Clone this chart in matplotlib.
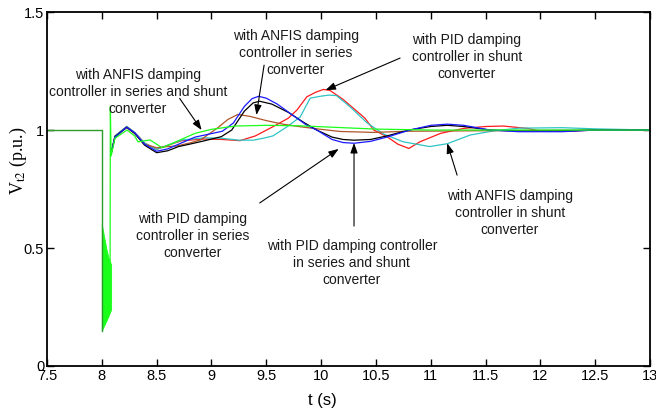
import matplotlib.pyplot as plt

plt.rcParams['font.family'] = ['Liberation Sans', 'DejaVu Sans']
plt.rcParams['mathtext.fontset'] = 'stix'

# pre-fault steady state and fault (t = 8.0 .. 8.085)
t_pre = [7.5, 8.0, 8.0]
v_pre = [1.0, 1.0, 0.15]
fault_t = [8.0, 8.02, 8.04, 8.06, 8.085]
fault_hi = [0.60, 0.55, 0.50, 0.46, 0.43]
fault_lo = [0.15, 0.17, 0.19, 0.21, 0.24]

# post-fault responses
t_red = [8.085, 8.12, 8.227, 8.30, 8.39, 8.5, 8.6, 8.73, 8.94, 9.1, 9.26, 9.4, 9.56, 9.7,
         9.78, 9.87, 9.95, 10.02, 10.08, 10.2, 10.3, 10.4, 10.48, 10.6, 10.7, 10.8, 10.9,
         11.09, 11.3, 11.5, 11.66, 11.88, 12.0, 12.3, 12.5, 13.0]
v_red = [0.9, 0.975, 1.015, 0.99, 0.945, 0.918, 0.935, 0.955, 0.962, 0.96, 0.955, 0.975,
         1.014, 1.05, 1.085, 1.141, 1.16, 1.172, 1.168, 1.13, 1.09, 1.05, 1.0, 0.972, 0.94,
         0.922, 0.95, 0.986, 1.007, 1.015, 1.017, 1.007, 0.996, 0.996, 1.0, 1.0]

t_cyan = [8.085, 8.12, 8.227, 8.30, 8.39, 8.5, 8.6, 8.73, 8.94, 9.1, 9.25, 9.38, 9.47, 9.56,
          9.69, 9.81, 9.86, 9.9, 9.99, 10.07, 10.14, 10.26, 10.42, 10.57, 10.75, 10.99,
          11.15, 11.36, 11.57, 11.8, 12.2, 12.5, 13.0]
v_cyan = [0.9, 0.975, 1.015, 0.99, 0.945, 0.918, 0.935, 0.958, 0.967, 0.965, 0.957, 0.957,
          0.965, 0.975, 1.014, 1.056, 1.1, 1.135, 1.143, 1.148, 1.146, 1.1, 1.03, 0.983,
          0.95, 0.93, 0.942, 0.979, 0.996, 1.008, 1.01, 1.005, 1.0]

t_brown = [8.085, 8.12, 8.227, 8.30, 8.39, 8.5, 8.6, 8.68, 8.8, 8.9, 9.05, 9.15, 9.24, 9.35,
           9.5, 9.65, 9.81, 10.0, 10.17, 10.48, 10.8, 11.5, 12.5, 13.0]
v_brown = [0.9, 0.97, 1.01, 0.985, 0.94, 0.925, 0.93, 0.932, 0.945, 0.958, 1.007, 1.045,
           1.066, 1.058, 1.04, 1.025, 1.014, 1.003, 0.994, 0.99, 0.995, 0.997, 1.0, 1.0]

t_black = [8.085, 8.12, 8.227, 8.30, 8.39, 8.5, 8.6, 8.7, 8.8, 8.94, 9.09, 9.185, 9.3, 9.38,
           9.44, 9.55, 9.7, 9.85, 9.96, 10.1, 10.2, 10.3, 10.45, 10.6, 10.8, 11.0, 11.15,
           11.3, 11.54, 11.8, 12.2, 12.5, 13.0]
v_black = [0.9, 0.972, 1.012, 0.986, 0.936, 0.904, 0.912, 0.93, 0.94, 0.955, 0.972, 1.0,
           1.08, 1.115, 1.122, 1.11, 1.075, 1.03, 1.0, 0.97, 0.96, 0.957, 0.96, 0.975, 1.0,
           1.015, 1.02, 1.015, 1.0, 0.996, 0.996, 1.0, 1.0]

t_blue = [8.085, 8.12, 8.227, 8.30, 8.39, 8.5, 8.6, 8.75, 8.85, 9.0, 9.1, 9.2, 9.3, 9.37,
          9.43, 9.5, 9.6, 9.75, 9.87, 9.96, 10.1, 10.2, 10.3, 10.45, 10.6, 10.81, 11.0,
          11.15, 11.3, 11.54, 11.8, 12.2, 12.5, 13.0]
v_blue = [0.9, 0.97, 1.012, 0.988, 0.94, 0.91, 0.92, 0.95, 0.97, 0.985, 0.995, 1.03, 1.1,
          1.133, 1.143, 1.135, 1.11, 1.06, 1.02, 1.0, 0.96, 0.947, 0.944, 0.952, 0.97, 1.0,
          1.02, 1.025, 1.02, 1.0, 0.993, 0.993, 1.0, 1.0]

t_green = [8.075, 8.078, 8.085, 8.12, 8.23, 8.30, 8.33, 8.44, 8.55, 8.7, 8.85, 9.0, 9.22,
           9.5, 9.8, 10.0, 10.5, 11.0, 13.0]
v_green = [0.24, 1.1, 0.89, 0.965, 1.0, 0.975, 0.95, 0.958, 0.925, 0.955, 0.986, 1.003,
           1.017, 1.02, 1.018, 1.014, 1.004, 1.0, 1.0]

# annotations: text, text centre, arrow tail, arrow tip
notes = [
    ("with ANFIS damping\ncontroller in series and shunt\nconverter", (8.33, 1.161), (8.71, 1.134), (8.91, 1.0)),
    ("with ANFIS damping\ncontroller in series\nconverter", (9.767, 1.326), (9.48, 1.275), (9.41, 1.064)),
    ("with PID damping\ncontroller in shunt\nconverter", (11.33, 1.309), (10.72, 1.305), (10.04, 1.169)),
    ("with PID damping\ncontroller in series\nconverter", (8.83, 0.551), (9.44, 0.691), (10.16, 0.92)),
    ("with PID damping controller\nin series and shunt\nconverter", (10.28, 0.436), (10.3, 0.593), (10.3, 0.945)),
    ("with ANFIS damping\ncontroller in shunt\nconverter", (11.72, 0.648), (11.24, 0.809), (11.15, 0.944)),
]

fig = plt.figure(figsize=(6.56, 4.16), dpi=100)
ax = fig.add_axes([0.0716, 0.1202, 0.9194, 0.8508])

lw = 0.9
ax.fill_between(fault_t, fault_lo, fault_hi, color='#1aff1a', lw=0.6)
ax.plot(t_red, v_red, color='#ff1a1a', lw=lw)
ax.plot(t_cyan, v_cyan, color='#2ec4c4', lw=lw)
ax.plot(t_brown, v_brown, color='#b0562a', lw=lw)
ax.plot(t_black, v_black, color='black', lw=lw)
ax.plot(t_blue, v_blue, color='#1a1aff', lw=lw)
ax.plot(t_green, v_green, color='#1aff1a', lw=lw)
ax.plot(t_pre, v_pre, color='#2a9d2a', lw=1.0)

for txt, pos, tail, tip in notes:
    ax.text(pos[0], pos[1], txt, ha='center', va='center', multialignment='center',
            fontsize=10, linespacing=1.3, color='#1a1a1a')
    ax.annotate('', xy=tip, xytext=tail,
                arrowprops=dict(arrowstyle='-|>,head_length=0.6,head_width=0.22',
                                color='black', lw=0.8, shrinkA=0, shrinkB=0))

ax.set_xlim(7.5, 13)
ax.set_ylim(0, 1.5)
ax.set_xticks([7.5, 8, 8.5, 9, 9.5, 10, 10.5, 11, 11.5, 12, 12.5, 13])
ax.set_xticklabels(['7.5', '8', '8.5', '9', '9.5', '10', '10.5', '11', '11.5', '12', '12.5', '13'])
ax.set_yticks([0, 0.5, 1, 1.5])
ax.set_yticklabels(['0', '0.5', '1', '1.5'])
ax.tick_params(direction='in', top=True, right=True, length=5, width=1, labelsize=10.5, pad=2)
for s in ax.spines.values():
    s.set_linewidth(1.3)

ax.set_xlabel('t (s)', fontsize=12)
ax.xaxis.set_label_coords(0.456, -0.075)
ax.set_ylabel(r'V$_{\mathrm{t2}}$ (p.u.)', fontsize=13, family='Liberation Serif')
ax.yaxis.set_label_coords(-0.03, 0.58)

fig.savefig('out.png', dpi=100)
